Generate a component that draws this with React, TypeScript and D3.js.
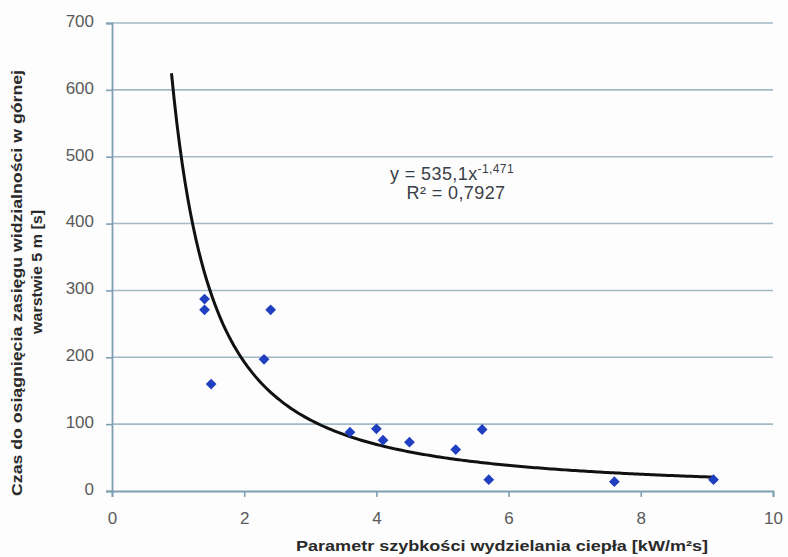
import React, { useEffect, useRef } from 'react';
import * as d3 from 'd3';

// measured points: heat release rate parameter vs time to reach visibility range
const xValues = [1.4, 1.4, 1.5, 2.3, 2.4, 3.6, 4.0, 4.1, 4.5, 5.2, 5.6, 5.7, 7.6, 9.1];
const yValues = [287, 271, 160, 197, 271, 88, 93, 76, 73, 62, 92, 17, 14, 17];

const xTicks = [0, 2, 4, 6, 8, 10];
const yTicks = [0, 100, 200, 300, 400, 500, 600, 700];

// power trendline from the chart label
const trendA = 535.1;
const trendB = -1.471;
const trendFrom = 0.9;
const trendTo = 9.1;

const App = () => {
    const ref = useRef<SVGSVGElement | null>(null);

    useEffect(() => {
        const width = 788;
        const height = 557;
        const margin = { top: 23, right: 15, bottom: 66, left: 112 };

        const svg = d3.select(ref.current);
        svg.selectAll('*').remove();

        const x = d3.scaleLinear().domain([0, 10]).range([margin.left, width - margin.right]);
        const y = d3.scaleLinear().domain([0, 700]).range([height - margin.bottom, margin.top]);

        svg.append('rect').attr('width', width).attr('height', height).attr('fill', '#fdfdfd');

        // gridlines
        svg.append('g')
            .selectAll('line')
            .data(yTicks.filter((d) => d > 0))
            .join('line')
            .attr('x1', x(0))
            .attr('x2', x(10))
            .attr('y1', (d) => y(d))
            .attr('y2', (d) => y(d))
            .attr('stroke', '#a3b9c6')
            .attr('stroke-width', 1.6);

        const font = 'Liberation Sans, Arial, sans-serif';

        // y axis
        const yAxis = svg.append('g')
            .attr('transform', `translate(${x(0)},0)`)
            .call(d3.axisLeft(y).tickValues(yTicks).tickSize(6).tickPadding(12));
        yAxis.select('.domain').attr('stroke', '#7f9fb3').attr('stroke-width', 1.8);
        yAxis.selectAll('line').attr('stroke', '#7f9fb3').attr('stroke-width', 1.6);
        yAxis.selectAll('text')
            .attr('font-family', font)
            .attr('font-size', 17)
            .attr('dy', '0.2em')
            .attr('fill', '#5a5a5a');

        // x axis
        const xAxis = svg.append('g')
            .attr('transform', `translate(0,${y(0)})`)
            .call(d3.axisBottom(x).tickValues(xTicks).tickSize(6).tickPadding(15));
        xAxis.select('.domain').attr('stroke', '#7f9fb3').attr('stroke-width', 1.8);
        xAxis.selectAll('line').attr('stroke', '#7f9fb3').attr('stroke-width', 1.6);
        xAxis.selectAll('text')
            .attr('font-family', font)
            .attr('font-size', 17)
            .attr('fill', '#5a5a5a');

        // trendline
        const trendPts = d3.range(0, 201).map((i) => {
            const xv = trendFrom + ((trendTo - trendFrom) * i) / 200;
            return [xv, trendA * Math.pow(xv, trendB)] as [number, number];
        });
        svg.append('path')
            .datum(trendPts)
            .attr('fill', 'none')
            .attr('stroke', '#111')
            .attr('stroke-width', 3)
            .attr('d', d3.line<[number, number]>().x((d) => x(d[0])).y((d) => y(d[1])));

        // markers (square turned 45deg)
        const diamond = d3.symbol().type(d3.symbolSquare).size(58);
        svg.append('g')
            .selectAll('path')
            .data(xValues.map((d, i) => [d, yValues[i]]))
            .join('path')
            .attr('d', diamond)
            .attr('transform', (d) => `translate(${x(d[0])},${y(d[1])}) rotate(45)`)
            .attr('fill', '#1f3fc0');

        // equation label
        const eq = svg.append('text')
            .attr('x', 390)
            .attr('y', 180)
            .attr('font-family', font)
            .attr('font-size', 18)
            .attr('letter-spacing', 0.4)
            .attr('fill', '#3a4048');
        eq.append('tspan').text('y = 535,1x');
        eq.append('tspan').attr('dy', -7).attr('font-size', 12).text('-1,471');

        svg.append('text')
            .attr('x', 456)
            .attr('y', 199)
            .attr('text-anchor', 'middle')
            .attr('font-family', font)
            .attr('font-size', 18)
            .attr('letter-spacing', 0.4)
            .attr('fill', '#3a4048')
            .text('R² = 0,7927');

        // axis titles
        svg.append('text')
            .attr('x', 502)
            .attr('y', 551)
            .attr('text-anchor', 'middle')
            .attr('font-family', font)
            .attr('font-size', 15)
            .attr('font-weight', 'bold')
            .attr('fill', '#2a2a2a')
            .attr('textLength', 412)
            .attr('lengthAdjust', 'spacingAndGlyphs')
            .text('Parametr szybkości wydzielania ciepła [kW/m²s]');

        svg.append('text')
            .attr('transform', 'translate(22,283) rotate(-90)')
            .attr('text-anchor', 'middle')
            .attr('font-family', font)
            .attr('font-size', 14.5)
            .attr('font-weight', 'bold')
            .attr('fill', '#2a2a2a')
            .attr('textLength', 426)
            .attr('lengthAdjust', 'spacingAndGlyphs')
            .text('Czas do osiągnięcia zasięgu widzialności w górnej');

        svg.append('text')
            .attr('transform', 'translate(42,272) rotate(-90)')
            .attr('text-anchor', 'middle')
            .attr('font-family', font)
            .attr('font-size', 14.5)
            .attr('font-weight', 'bold')
            .attr('fill', '#2a2a2a')
            .attr('textLength', 124)
            .attr('lengthAdjust', 'spacingAndGlyphs')
            .text('warstwie 5 m [s]');

        return () => {
            svg.selectAll('*').remove();
        };
    }, []);

    return (
        <svg
            ref={ref}
            width={788}
            height={557}
            style={{ position: 'absolute', left: 0, top: 0 }}
        />
    );
};

export default App;
